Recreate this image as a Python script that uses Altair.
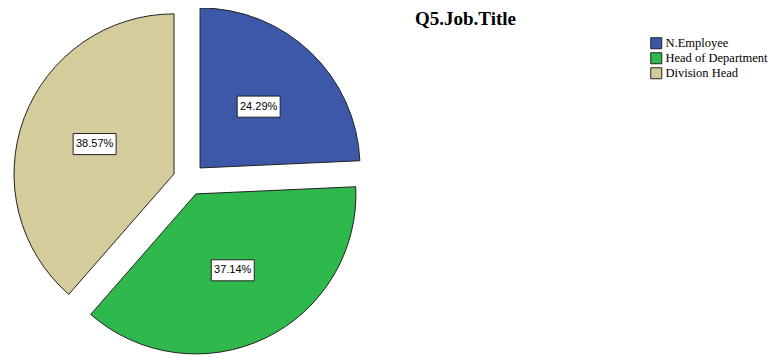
import altair as alt
import pandas as pd

# ---- data ----
categories = ["N.Employee", "Head of Department", "Division Head"]
counts = [17, 26, 27]
colors = ["#3d57a9", "#2fb84b", "#d4cd9b"]

df = pd.DataFrame({
    "category": categories,
    "count": counts,
    "order": list(range(len(categories))),
})

# ---- layout constants ----
W, H = 362, 343          # plot area
R = 160                  # pie radius in px
EXPLODE = 0.1            # slice offset (in radius units)
LABEL_R = 0.63           # label distance from centre (radius units)

xh = W / 2 / R
yh = H / 2 / R
xs = alt.Scale(domain=[-xh, xh])
ys = alt.Scale(domain=[-yh, yh])

base = (
    alt.Chart(df)
    .transform_joinaggregate(total="sum(count)")
    .transform_window(cum="sum(count)", sort=[alt.SortField("order")], frame=[None, 0])
    .transform_calculate(t1="2*PI*(datum.cum - datum.count)/datum.total")
    .transform_calculate(t2="2*PI*datum.cum/datum.total")
    .transform_calculate(pct="format(100*datum.count/datum.total, '.2f') + '%'")
    .transform_calculate(mid="(datum.t1 + datum.t2)/2")
    .transform_calculate(cx=f"{EXPLODE}*sin(datum.mid)")
    .transform_calculate(cy=f"{EXPLODE}*cos(datum.mid)")
    .transform_calculate(lx=f"{LABEL_R}*sin(datum.mid)")
    .transform_calculate(ly=f"{LABEL_R}*cos(datum.mid)")
)

arcs = base.mark_arc(radius=R, stroke="#222222", strokeWidth=1).encode(
    x=alt.X("cx:Q", scale=xs, axis=None),
    y=alt.Y("cy:Q", scale=ys, axis=None),
    theta=alt.Theta("t1:Q", scale=None),
    theta2="t2:Q",
    color=alt.Color(
        "category:N",
        scale=alt.Scale(domain=categories, range=colors),
        sort=categories,
        legend=alt.Legend(
            title=None,
            orient="none",
            legendX=642,
            legendY=29,
            symbolType="square",
            symbolSize=121,
            symbolStrokeColor="#222222",
            symbolStrokeWidth=1,
            symbolOpacity=1,
            labelFont="Liberation Serif",
            labelFontSize=12.5,
            labelColor="black",
            labelOffset=3,
            rowPadding=-1,
            padding=0,
        ),
    ),
)

box_path = "M-1,-0.49H1V0.49H-1Z"
boxes = base.mark_point(
    shape=box_path, size=43 * 43, filled=True, fill="white",
    stroke="#222222", strokeWidth=1, opacity=1,
).encode(
    x=alt.X("lx:Q", scale=xs, axis=None),
    y=alt.Y("ly:Q", scale=ys, axis=None),
)

labels = base.mark_text(font="Liberation Sans", fontSize=11, color="black").encode(
    x=alt.X("lx:Q", scale=xs, axis=None),
    y=alt.Y("ly:Q", scale=ys, axis=None),
    text="pct:N",
)

chart = (
    alt.layer(arcs, boxes, labels)
    .properties(
        width=W,
        height=H,
        background="white",
        autosize=alt.AutoSizeParams(type="none"),
        padding={"left": 0, "top": 0, "right": 760 - W, "bottom": 347 - H},
        title=alt.Title(
            "Q5.Job.Title",
            font="Liberation Serif",
            fontSize=19,
            fontWeight="bold",
            color="black",
            anchor="start",
            frame="group",
            dx=407,
            dy=38,
            offset=0,
            baseline="alphabetic",
        ),
    )
    .configure_view(strokeWidth=0, stroke="transparent")
)

chart.save("out.html", embed_options={"renderer": "svg", "actions": False})
